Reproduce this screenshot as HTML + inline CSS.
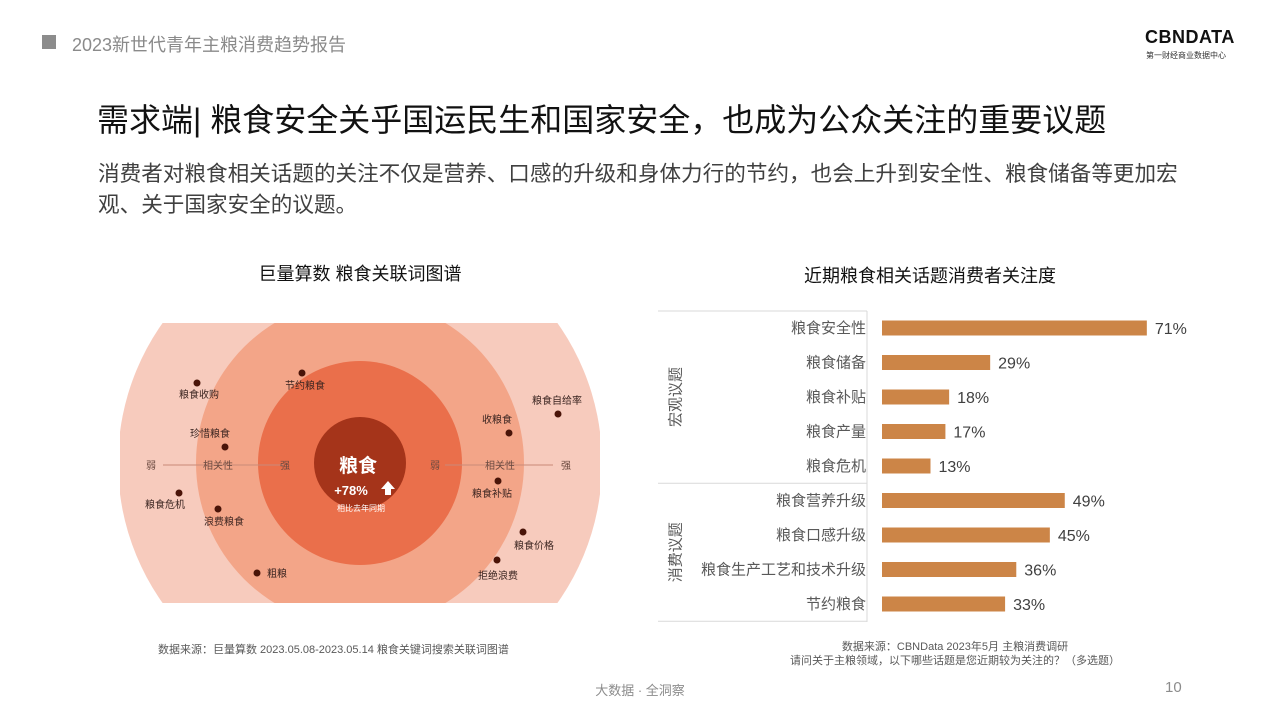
<!DOCTYPE html>
<html><head><meta charset="utf-8">
<style>
body{margin:0;width:1280px;height:720px;background:#fff;position:relative;overflow:hidden;font-family:"Liberation Sans","Noto Sans CJK SC",sans-serif}
.abs{position:absolute;white-space:nowrap}
</style></head><body>
<div class="abs" style="left:42px;top:35px;width:14px;height:14px;background:#8c8c8c"></div>
<div class="abs" style="left:72px;top:31px;font-size:18px;color:#8a8a8a">2023新世代青年主粮消费趋势报告</div>
<div class="abs" style="left:1145px;top:27px;font-size:18px;font-weight:bold;color:#111;letter-spacing:0.5px">CBNDATA</div>
<div class="abs" style="left:1146px;top:50px;font-size:8px;color:#333">第一财经商业数据中心</div>
<div class="abs" style="left:97px;top:95px;font-size:32px;color:#111">需求端| 粮食安全关乎国运民生和国家安全，也成为公众关注的重要议题</div>
<div class="abs" style="left:98px;top:158px;font-size:21.6px;color:#404040;line-height:31px">消费者对粮食相关话题的关注不仅是营养、口感的升级和身体力行的节约，也会上升到安全性、粮食储备等更加宏<br>观、关于国家安全的议题。</div>

<div class="abs" style="left:360px;top:260px;transform:translateX(-50%);font-size:18px;color:#111">巨量算数 粮食关联词图谱</div>
<svg class="abs" style="left:0;top:0" width="640" height="640">
<defs><clipPath id="c"><rect x="120" y="323" width="480" height="280"/></clipPath></defs>
<g clip-path="url(#c)">
<circle cx="360" cy="463" r="242" fill="#f7cbbd"/>
<circle cx="360" cy="463" r="164" fill="#f3a588"/>
<circle cx="360" cy="463" r="102" fill="#ea6f4b"/>
<circle cx="360" cy="463" r="46" fill="#a5341a"/>
</g>
<g stroke="#c98a78" stroke-width="1"><line x1="163" y1="465" x2="283" y2="465"/><line x1="445" y1="465" x2="553" y2="465"/></g>
<g font-size="10" fill="#6b4a40"><text x="146" y="469">弱</text><text x="203" y="469">相关性</text><text x="280" y="469">强</text><text x="430" y="469">弱</text><text x="485" y="469">相关性</text><text x="561" y="469">强</text></g>
<g fill="#4a1408"><circle cx="302" cy="373" r="3.5"/><circle cx="197" cy="383" r="3.5"/><circle cx="225" cy="447" r="3.5"/><circle cx="509" cy="433" r="3.5"/><circle cx="558" cy="414" r="3.5"/><circle cx="498" cy="481" r="3.5"/><circle cx="179" cy="493" r="3.5"/><circle cx="218" cy="509" r="3.5"/><circle cx="523" cy="532" r="3.5"/><circle cx="497" cy="560" r="3.5"/><circle cx="257" cy="573" r="3.5"/></g>
<g font-size="10" fill="#3a2420"><text x="285" y="389">节约粮食</text><text x="179" y="398">粮食收购</text><text x="190" y="437">珍惜粮食</text><text x="482" y="423">收粮食</text><text x="532" y="404">粮食自给率</text><text x="472" y="497">粮食补贴</text><text x="145" y="508">粮食危机</text><text x="204" y="525">浪费粮食</text><text x="514" y="549">粮食价格</text><text x="478" y="579">拒绝浪费</text><text x="267" y="577">粗粮</text></g>
<text x="358" y="472" font-size="19" font-weight="bold" fill="#fff" text-anchor="middle">粮食</text>
<text x="351" y="495" font-size="13" font-weight="bold" fill="#fff" text-anchor="middle">+78%</text>
<path d="M381 489 l7 -8 l7 8 h-4 v6 h-6 v-6z" fill="#fff"/>
<text x="361" y="511" font-size="8" fill="#fff" text-anchor="middle">相比去年同期</text>
</svg>
<div class="abs" style="left:158px;top:641px;font-size:11px;color:#595959">数据来源：巨量算数  2023.05.08-2023.05.14 粮食关键词搜索关联词图谱</div>

<div class="abs" style="left:930px;top:262px;transform:translateX(-50%);font-size:18px;color:#111">近期粮食相关话题消费者关注度</div>
<svg class="abs" id="bars" style="left:0;top:0" width="1280" height="640"></svg>
<div class="abs" style="left:955px;top:640px;transform:translateX(-50%);font-size:11px;color:#595959;text-align:center;line-height:14px">数据来源：CBNData 2023年5月 主粮消费调研<br>请问关于主粮领域，以下哪些话题是您近期较为关注的？（多选题）</div>

<div class="abs" style="left:640px;top:680px;transform:translateX(-50%);font-size:13px;color:#8c8c8c">大数据 · 全洞察</div>
<div class="abs" style="left:1165px;top:679px;font-size:15px;color:#8c8c8c">10</div>

<script>
const categories=["粮食安全性","粮食储备","粮食补贴","粮食产量","粮食危机","粮食营养升级","粮食口感升级","粮食生产工艺和技术升级","节约粮食"];
const values=[71,29,18,17,13,49,45,36,33];
const groups=["宏观议题","消费议题"];
const groupSizes=[5,4];
(function(){
const svg=document.getElementById('bars');
const NS='http://www.w3.org/2000/svg';
const x0=882, pxPer=3.73, y0=328, step=34.5, bh=15;
const xs=v=>x0+v*pxPer, ys=i=>y0+i*step;
function mk(t,a){const e=document.createElementNS(NS,t);for(const k in a)e.setAttribute(k,a[k]);svg.appendChild(e);return e;}
const axis=mk('line',{x1:867,y1:311,x2:867,y2:622,stroke:'#d9d9d9'});


const topLine=mk('line',{x1:658,y1:311,x2:867,y2:311,stroke:'#d9d9d9'});


let start=0;
groups.forEach((g,gi)=>{
  const first=start,last=start+groupSizes[gi]-1;
  const yb=ys(last)+step/2;
  const ln=mk('line',{x1:658,y1:yb,x2:867,y2:yb,stroke:'#d9d9d9'});
  
  
  const cy=(ys(first)+ys(last))/2;
  const t=mk('text',{x:676,y:cy,'font-size':15,fill:'#595959','text-anchor':'middle','dominant-baseline':'central',transform:`rotate(-90 676 ${cy})`});
  t.textContent=g;
  
  
  start+=groupSizes[gi];
});
categories.forEach((c,i)=>{
  const t=mk('text',{x:866,y:ys(i)+5,'font-size':15,fill:'#595959','text-anchor':'end'});
  t.textContent=c;
  
  
  const b=mk('rect',{x:x0,y:ys(i)-bh/2,width:xs(values[i])-x0,height:bh,fill:'#cc8547'});
  
  
  const v=mk('text',{x:xs(values[i])+8,y:ys(i)+6,'font-size':16,fill:'#404040'});
  v.textContent=values[i]+'%';
  
  
});
})();
</script>
</body></html>
